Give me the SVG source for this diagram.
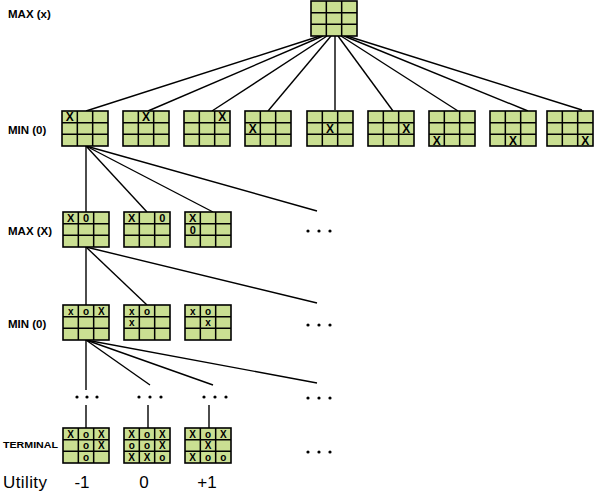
<svg xmlns="http://www.w3.org/2000/svg" xmlns:xlink="http://www.w3.org/1999/xlink" width="596" height="498" viewBox="0 0 596 498">
<style>
.lbl{font-family:"Liberation Sans",Arial,sans-serif;font-weight:bold;font-size:11.5px;fill:#000}
.term{font-family:"Liberation Sans",Arial,sans-serif;font-weight:bold;font-size:9px;fill:#000}
.util{font-family:"Liberation Sans",Arial,sans-serif;font-size:17px;fill:#000}
.m{font-family:"Liberation Sans",Arial,sans-serif;font-weight:bold;font-size:12px;fill:#000;text-anchor:middle}
.n{font-family:"Liberation Sans",Arial,sans-serif;font-weight:bold;font-size:11px;fill:#000;text-anchor:middle}
.s{font-family:"Liberation Sans",Arial,sans-serif;font-weight:bold;font-size:10px;fill:#000;text-anchor:middle}
.edge{stroke:#000;stroke-width:1.4;fill:none}
.dot{fill:#000}
</style>
<defs>
<g id="board">
<rect x="0" y="0" width="46" height="35" fill="#CADF92" stroke="#000" stroke-width="1.6"/>
<path d="M15.33 0V35M30.67 0V35M0 11.67H46M0 23.33H46" stroke="#000" stroke-width="1.5" fill="none"/>
</g>
</defs>

<g id="labels">
<text class="lbl" x="8" y="18">MAX (x)</text>
<text class="lbl" x="8" y="134">MIN (0)</text>
<text class="lbl" x="8" y="235">MAX (X)</text>
<text class="lbl" x="8" y="328">MIN (0)</text>
<text class="term" x="3" y="448" textLength="55" lengthAdjust="spacingAndGlyphs">TERMINAL</text>
<text class="util" x="3" y="488" textLength="44">Utility</text>
<text class="util" x="82" y="488" text-anchor="middle">-1</text>
<text class="util" x="144" y="488" text-anchor="middle">0</text>
<text class="util" x="207" y="488" text-anchor="middle">+1</text>
</g>

<g id="connectors">
<line class="edge" x1="320" y1="36" x2="86" y2="111"/>
<line class="edge" x1="323" y1="36" x2="148" y2="111"/>
<line class="edge" x1="327" y1="36" x2="212" y2="111"/>
<line class="edge" x1="331" y1="36" x2="268" y2="111"/>
<line class="edge" x1="335" y1="36" x2="335" y2="110"/>
<line class="edge" x1="338" y1="36" x2="393" y2="111"/>
<line class="edge" x1="341" y1="36" x2="458" y2="111"/>
<line class="edge" x1="344" y1="36" x2="528" y2="111"/>
<line class="edge" x1="347" y1="36" x2="582" y2="110"/>

<line class="edge" x1="86" y1="146" x2="86" y2="212"/>
<line class="edge" x1="86" y1="146" x2="147" y2="212"/>
<line class="edge" x1="86" y1="146" x2="213" y2="212"/>
<line class="edge" x1="86" y1="146" x2="317" y2="211"/>

<line class="edge" x1="86" y1="247" x2="86" y2="305"/>
<line class="edge" x1="86" y1="247" x2="147" y2="305"/>
<line class="edge" x1="86" y1="247" x2="317" y2="303"/>

<line class="edge" x1="86" y1="340" x2="86" y2="390"/>
<line class="edge" x1="86" y1="340" x2="150" y2="385"/>
<line class="edge" x1="86" y1="340" x2="213" y2="385"/>
<line class="edge" x1="86" y1="340" x2="317" y2="383"/>

<line class="edge" x1="86" y1="405" x2="86" y2="428"/>
<line class="edge" x1="148" y1="405" x2="148" y2="428"/>
<line class="edge" x1="209" y1="405" x2="209" y2="428"/>
</g>

<g id="dots">
<circle class="dot" cx="308" cy="231" r="1.6"/><circle class="dot" cx="319" cy="231" r="1.6"/><circle class="dot" cx="330" cy="231" r="1.6"/>
<circle class="dot" cx="308" cy="325" r="1.6"/><circle class="dot" cx="319" cy="325" r="1.6"/><circle class="dot" cx="330" cy="325" r="1.6"/>
<circle class="dot" cx="77" cy="397" r="1.6"/><circle class="dot" cx="87" cy="397" r="1.6"/><circle class="dot" cx="97" cy="397" r="1.6"/>
<circle class="dot" cx="139" cy="397" r="1.6"/><circle class="dot" cx="150" cy="397" r="1.6"/><circle class="dot" cx="161" cy="397" r="1.6"/>
<circle class="dot" cx="204" cy="397" r="1.6"/><circle class="dot" cx="215" cy="397" r="1.6"/><circle class="dot" cx="226" cy="397" r="1.6"/>
<circle class="dot" cx="308" cy="398" r="1.6"/><circle class="dot" cx="319" cy="398" r="1.6"/><circle class="dot" cx="330" cy="398" r="1.6"/>
<circle class="dot" cx="308" cy="452" r="1.6"/><circle class="dot" cx="319" cy="452" r="1.6"/><circle class="dot" cx="330" cy="452" r="1.6"/>
</g>

<g id="root"><use xlink:href="#board" x="311" y="1"/></g>

<g id="min1"><use xlink:href="#board" x="62" y="111"/><text class="m" x="69.7" y="121.2">X</text></g>
<g id="min2"><use xlink:href="#board" x="123" y="111"/><text class="m" x="146" y="121.2">X</text></g>
<g id="min3"><use xlink:href="#board" x="184" y="111"/><text class="m" x="222.3" y="121.2">X</text></g>
<g id="min4"><use xlink:href="#board" x="245" y="111"/><text class="m" x="252.7" y="132.9">X</text></g>
<g id="min5"><use xlink:href="#board" x="307" y="111"/><text class="m" x="330" y="132.9">X</text></g>
<g id="min6"><use xlink:href="#board" x="368" y="111"/><text class="m" x="406.3" y="132.9">X</text></g>
<g id="min7"><use xlink:href="#board" x="429" y="111"/><text class="m" x="436.7" y="144.6">X</text></g>
<g id="min8"><use xlink:href="#board" x="490" y="111"/><text class="m" x="513" y="144.6">X</text></g>
<g id="min9"><use xlink:href="#board" x="547" y="111"/><text class="m" x="585.3" y="144.6">X</text></g>

<g id="max1"><use xlink:href="#board" x="63" y="212"/><text class="n" x="70.7" y="221.8">X</text><text class="n" x="86" y="221.8">0</text></g>
<g id="max2"><use xlink:href="#board" x="124" y="212"/><text class="n" x="131.7" y="221.8">X</text><text class="n" x="162.3" y="221.8">0</text></g>
<g id="max3"><use xlink:href="#board" x="185" y="212"/><text class="n" x="192.7" y="221.6">X</text><text class="n" x="192.7" y="234">0</text></g>

<g id="min2_1"><use xlink:href="#board" x="63" y="305"/><text class="s" x="70.7" y="314.6">x</text><text class="s" x="86" y="314.6">o</text><text class="s" x="101.3" y="314.6">X</text></g>
<g id="min2_2"><use xlink:href="#board" x="124" y="305"/><text class="s" x="131.7" y="314.6">x</text><text class="s" x="147" y="314.6">o</text><text class="s" x="131.7" y="326.3">x</text></g>
<g id="min2_3"><use xlink:href="#board" x="185" y="305"/><text class="s" x="192.7" y="314.6">x</text><text class="s" x="208" y="314.6">o</text><text class="s" x="208" y="326.3">x</text></g>

<g id="term1"><use xlink:href="#board" x="63" y="428"/>
<text class="s" x="70.7" y="437.6">X</text><text class="s" x="86" y="437.6">o</text><text class="s" x="101.3" y="437.6">X</text>
<text class="s" x="86" y="449.3">o</text><text class="s" x="101.3" y="449.3">X</text>
<text class="s" x="86" y="461">o</text></g>
<g id="term2"><use xlink:href="#board" x="124" y="428"/>
<text class="s" x="131.7" y="437.6">X</text><text class="s" x="147" y="437.6">o</text><text class="s" x="162.3" y="437.6">X</text>
<text class="s" x="131.7" y="449.3">o</text><text class="s" x="147" y="449.3">o</text><text class="s" x="162.3" y="449.3">X</text>
<text class="s" x="131.7" y="461">X</text><text class="s" x="147" y="461">X</text><text class="s" x="162.3" y="461">o</text></g>
<g id="term3"><use xlink:href="#board" x="185" y="428"/>
<text class="s" x="192.7" y="437.6">X</text><text class="s" x="208" y="437.6">o</text><text class="s" x="223.3" y="437.6">X</text>
<text class="s" x="208" y="449.3">X</text>
<text class="s" x="192.7" y="461">X</text><text class="s" x="208" y="461">o</text><text class="s" x="223.3" y="461">o</text></g>
</svg>
